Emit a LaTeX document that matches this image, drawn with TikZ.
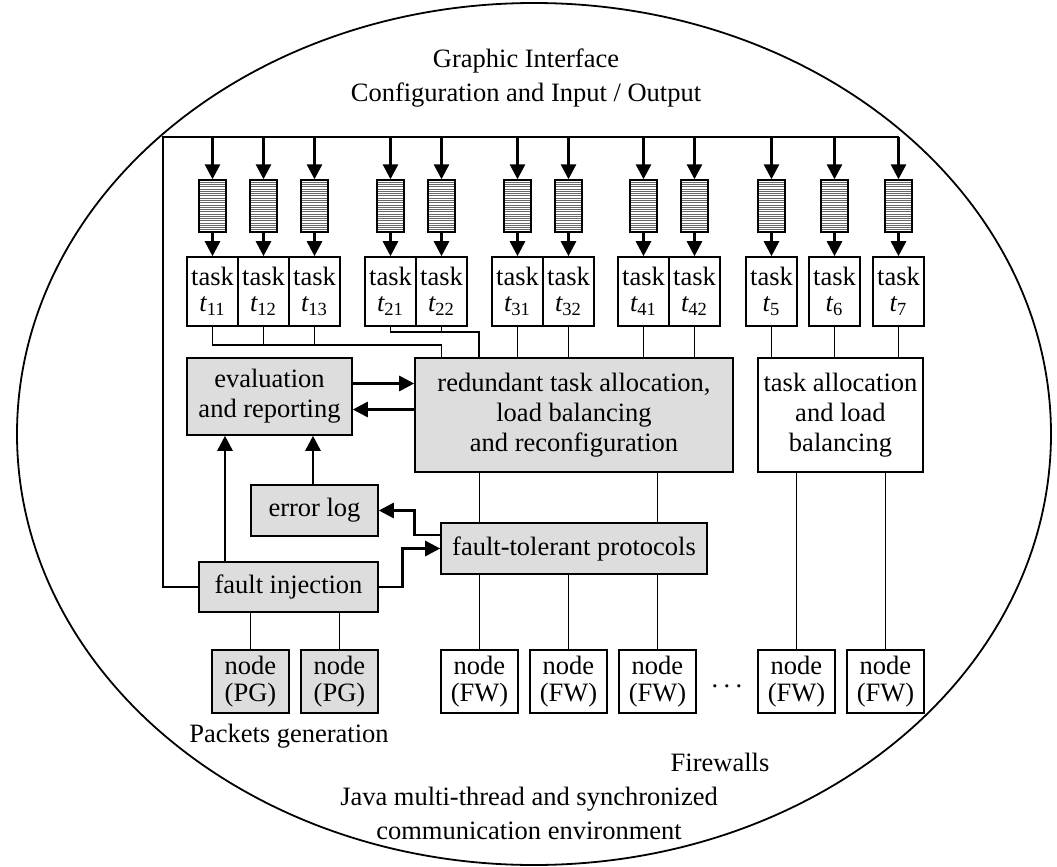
\documentclass[tikz,border=0pt]{standalone}
\usepackage{fontspec}
\setmainfont{Liberation Serif}
\usepackage{tikz}
\usetikzlibrary{arrows.meta}
\definecolor{boxgray}{RGB}{221,221,221}
\definecolor{queuegray}{RGB}{105,105,105}

\begin{document}
\begin{tikzpicture}[x=0.5pt, y=-0.5pt,
		font=\fontsize{13.25}{15}\selectfont,
		>={Triangle[length=7.5pt,width=7.5pt]},
		box/.style={draw, line width=0.8pt, align=center, inner sep=0pt},
		graybox/.style={box, fill=boxgray},
		task/.style={box, minimum width=25.5pt, minimum height=34.5pt, font=\fontsize{13.25}{13}\selectfont},
		fwnode/.style={box, minimum width=38.5pt, minimum height=31.5pt, font=\fontsize{13.25}{13.5}\selectfont},
		queue/.style={draw, line width=0.7pt, minimum width=13.5pt, minimum height=26pt, inner sep=0pt,
			path picture={\foreach \k in {1,...,22}
				\draw[queuegray, line width=0.35pt] ([yshift=-\k*1.13pt]path picture bounding box.north west) -- ([yshift=-\k*1.13pt]path picture bounding box.north east);}},
		link/.style={line width=0.7pt},
		flow/.style={line width=1.4pt, ->}]

	\useasboundingbox (0,0) rectangle (1057,867);

	% Environment
	\draw[line width=0.9pt] (534,434) ellipse [x radius=258.5pt, y radius=215.5pt];
	\node[align=center, font=\fontsize{13.25}{17}\selectfont] (gui) at (526,78) {Graphic Interface\\Configuration and Input / Output};
	\node[align=center, font=\fontsize{13.25}{17}\selectfont] (env) at (529,813) {Java multi-thread and synchronized\\communication environment};

	% Processing boxes
	\node[graybox, minimum width=82.5pt, minimum height=38.5pt] (eval) at (269.5,396.5) {evaluation\\and reporting};
	\node[graybox, minimum width=159pt, minimum height=57pt] (rta) at (574,415) {redundant task allocation,\\load balancing\\ and reconfiguration};
	\node[box, minimum width=82.5pt, minimum height=57pt] (alloc) at (840.5,415) {task allocation\\and load\\balancing};
	\node[graybox, minimum width=63.5pt, minimum height=25.5pt] (errlog) at (314.5,510.5) {error log};
	\node[graybox, minimum width=133pt, minimum height=25.5pt] (ftp) at (574,548.5) {fault-tolerant protocols};
	\node[graybox, minimum width=89.5pt, minimum height=25pt] (finj) at (288.5,587) {fault injection};

	% Packet generators and firewalls
	\node[fwnode, fill=boxgray] (pg1) at (250.5,681.5) {node\\(PG)};
	\node[fwnode, fill=boxgray] (pg2) at (339.5,681.5) {node\\(PG)};
	\foreach \n/\x in {1/479.5, 2/568.5, 3/657.5, 4/796.5, 5/885.5}
		\node[fwnode] (fw\n) at (\x,681.5) {node\\(FW)};
	\node (dots) at (727,686) {.\kern2.7pt.\kern2.7pt.};
	\node (pglabel) at (289,736) {Packets generation};
	\node (fwlabel) at (720,762) {Firewalls};

	% Input bus
	\coordinate (busL) at (163,137);
	\draw[line width=0.8pt] (finj.west) -| (busL) -- (busL -| 898.5,0);

	% Queues and tasks
	\foreach \n/\s/\x in {t11/11/212.5, t12/12/263.5, t13/13/314.5, t21/21/390.5, t22/22/441.5,
			t31/31/517.5, t32/32/568.5, t41/41/643.5, t42/42/694.5, t5/5/771.5, t6/6/834.5, t7/7/898.5} {
		\node[queue] (q\n) at (\x,206) {};
		\node[task] (\n) at (\x,291.5) {task\\{\itshape t}\textsubscript{\s}};
		\draw[flow] (q\n.north |- busL) -- (q\n.north);
		\draw[flow] (q\n.south) -- (\n.north);
	}

	% Task links
	\coordinate (j1) at (441.5,345);
	\coordinate (j2) at (479,332);
	\draw[link] (t11.south) |- (j1) -- (j1 |- rta.north);
	\draw[link] (t12.south) -- (t12.south |- j1);
	\draw[link] (t13.south) -- (t13.south |- j1);
	\draw[link] (t21.south) |- (j2) -- (j2 |- rta.north);
	\draw[link] (t22.south) -- (t22.south |- j2);
	\foreach \n in {t31, t32, t41, t42}
		\draw[link] (\n.south) -- (\n.south |- rta.north);
	\foreach \n in {t5, t6, t7}
		\draw[link] (\n.south) -- (\n.south |- alloc.north);

	% Control flow
	\draw[flow] ([yshift=6.5pt]eval.east) -- ([yshift=6.5pt]eval.east -| rta.west);
	\draw[flow] ([yshift=-6.5pt]eval.east -| rta.west) -- ([yshift=-6.5pt]eval.east);
	\draw[flow] ([xshift=-0.75pt]errlog.north) -- ([xshift=-0.75pt]errlog.north |- eval.south);
	\draw[flow] ([xshift=-31.75pt]finj.north) -- ([xshift=-31.75pt]finj.north |- eval.south);
	\draw[flow] ([yshift=6.75pt]ftp.west) -- ++(-26,0) |- (errlog.east);
	\draw[flow] (finj.east) -- ++(24,0) |- (ftp.west);

	% Node links
	\foreach \n in {pg1, pg2}
		\draw[link] (\n.north |- finj.south) -- (\n.north);
	\foreach \n in {fw1, fw3}
		\draw[link] (\n.north |- rta.south) -- (\n.north |- ftp.north);
	\foreach \n in {fw1, fw2, fw3}
		\draw[link] (\n.north |- ftp.south) -- (\n.north);
	\foreach \n in {fw4, fw5}
		\draw[link] (\n.north |- alloc.south) -- (\n.north);

\end{tikzpicture}
\end{document}
